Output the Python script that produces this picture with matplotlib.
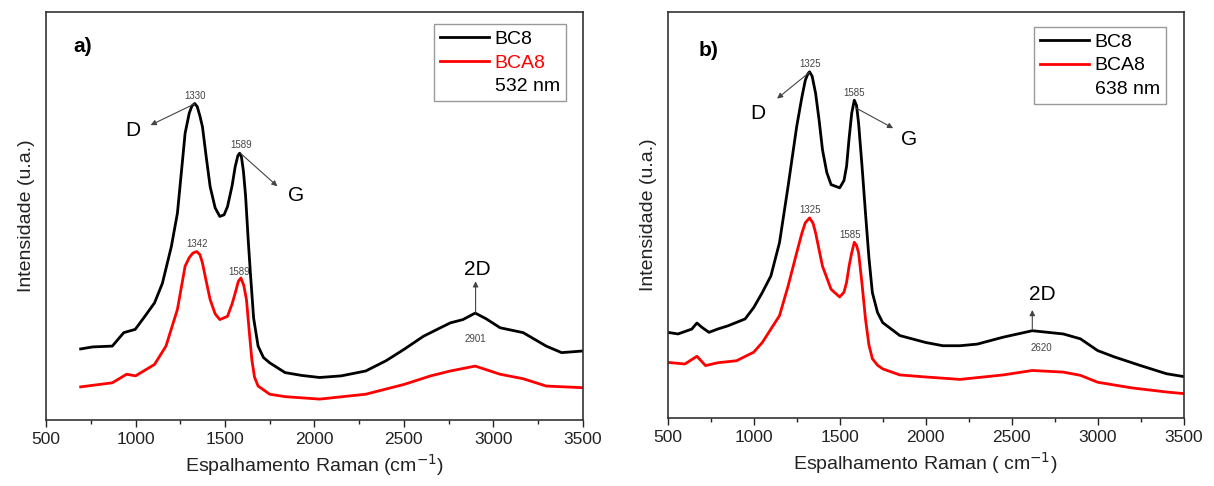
import numpy as np
import matplotlib
matplotlib.use("Agg")
import matplotlib.pyplot as plt
from matplotlib.lines import Line2D

plt.rcParams['font.family'] = ['Liberation Sans', 'DejaVu Sans']

# --- Data (intensity in arbitrary units, 0-100) ---
# a) 532 nm
a_bc8_x = [693, 760, 870, 934, 998, 1052, 1106, 1150, 1200, 1234, 1260, 1277,
           1300, 1315, 1331, 1345, 1360, 1374, 1395, 1417, 1445, 1471, 1495,
           1514, 1540, 1557, 1572, 1582, 1592, 1603, 1615, 1630, 1642, 1660,
           1685, 1715, 1750, 1836, 1930, 2029, 2150, 2287, 2400, 2501, 2609,
           2700, 2760, 2830, 2899, 2960, 3038, 3167, 3296, 3382, 3500]
a_bc8_y = [17.4, 17.9, 18.1, 21.4, 22.2, 25.4, 28.7, 33.5, 42.5, 50.7, 62.5,
           70.3, 75.2, 77.0, 77.6, 76.8, 74.5, 71.9, 64.5, 57.2, 52.0, 49.9,
           50.3, 52.3, 57.5, 62.1, 64.8, 65.4, 64.5, 61.0, 55.0, 44.0, 36.0,
           25.0, 18.1, 15.3, 14.0, 11.6, 10.9, 10.4, 10.8, 12.0, 14.5, 17.3,
           20.5, 22.5, 23.8, 24.6, 26.2, 24.8, 22.6, 21.4, 18.1, 16.5, 16.9]
a_bca8_x = [693, 870, 950, 1000, 1106, 1170, 1234, 1277, 1300, 1320, 1342,
            1360, 1374, 1395, 1417, 1445, 1471, 1514, 1540, 1557, 1575, 1589,
            1605, 1620, 1635, 1650, 1665, 1685, 1750, 1836, 2029, 2287, 2501,
            2650, 2760, 2899, 3038, 3167, 3296, 3500]
a_bca8_y = [8.1, 9.1, 11.2, 10.8, 13.6, 18.1, 27.1, 37.7, 39.8, 40.9, 41.3,
            40.5, 38.5, 34.0, 29.5, 26.0, 24.6, 25.4, 28.5, 31.1, 34.0, 34.8,
            33.0, 29.5, 22.0, 14.8, 10.5, 8.3, 6.3, 5.7, 5.1, 6.3, 8.7, 10.8,
            12.0, 13.2, 11.2, 10.1, 8.3, 7.9]

# b) 638 nm
b_bc8_x = [500, 560, 640, 670, 700, 740, 790, 850, 950, 1000, 1050, 1100,
           1150, 1200, 1250, 1280, 1300, 1315, 1325, 1340, 1360, 1380, 1400,
           1425, 1450, 1500, 1525, 1540, 1555, 1570, 1585, 1598, 1610, 1630,
           1650, 1670, 1690, 1720, 1750, 1850, 2000, 2100, 2200, 2300, 2450,
           2620, 2800, 2900, 3000, 3100, 3250, 3400, 3500]
b_bc8_y = [21.1, 20.7, 21.9, 23.4, 22.3, 21.1, 21.9, 22.7, 24.4, 27.2, 30.9,
           35.0, 43.2, 57.1, 71.8, 79.0, 83.2, 84.8, 85.3, 84.2, 80.0, 73.5,
           66.1, 60.5, 57.5, 56.7, 58.5, 62.0, 69.0, 75.1, 78.3, 77.0, 72.6,
           62.0, 50.5, 39.5, 30.9, 26.0, 23.5, 20.3, 18.6, 17.8, 17.8, 18.2,
           19.9, 21.5, 20.7, 19.5, 16.6, 15.0, 12.9, 10.9, 10.2]
b_bca8_x = [500, 600, 670, 720, 790, 900, 1000, 1050, 1100, 1150, 1200, 1250,
            1280, 1300, 1325, 1345, 1360, 1380, 1400, 1450, 1500, 1525, 1540,
            1555, 1570, 1585, 1598, 1610, 1630, 1650, 1670, 1690, 1720, 1750,
            1850, 2000, 2200, 2450, 2620, 2800, 2900, 3000, 3200, 3400, 3500]
b_bca8_y = [13.7, 13.3, 15.2, 12.9, 13.6, 14.1, 16.2, 18.6, 21.9, 25.2, 32.5,
            40.7, 45.5, 48.1, 49.3, 48.0, 45.6, 41.5, 37.4, 31.7, 29.8, 31.0,
            33.4, 37.5, 40.7, 43.3, 42.5, 40.7, 33.0, 24.4, 18.0, 14.6, 13.0,
            12.1, 10.6, 10.1, 9.5, 10.6, 11.7, 11.3, 10.5, 8.8, 7.4, 6.4, 6.0]

# Peak labels: (x, y, text)
a_peaks = [(1330, 79.5, "1330"), (1589, 67.3, "1589"), (1342, 43.2, "1342"),
           (1580, 36.3, "1589"), (2901, 19.8, "2901")]
b_peaks = [(1325, 87.3, "1325"), (1585, 80.2, "1585"), (1325, 51.2, "1325"),
           (1560, 45.2, "1585"), (2674, 17.2, "2620")]


def style_axes(ax, xlabel):
    ax.set_xlim(500, 3500)
    ax.set_ylim(0, 100)
    ax.set_xticks(np.arange(500, 3501, 500))
    ax.set_xticks(np.arange(750, 3500, 500), minor=True)
    ax.set_yticks([])
    ax.tick_params(axis='x', which='major', direction='out', length=5,
                   width=1, labelsize=12.5, colors='#222222')
    ax.tick_params(axis='x', which='minor', direction='out', length=3,
                   width=1, colors='#222222')
    for sp in ax.spines.values():
        sp.set_linewidth(1.2)
        sp.set_color('#333333')
    ax.set_xlabel(xlabel, fontsize=14, color='#222222', labelpad=4)
    ax.set_ylabel("Intensidade (u.a.)", fontsize=14, color='#222222',
                  labelpad=8)


def add_legend(ax, wl, red_text, anchor):
    handles = [Line2D([], [], color='black', lw=2),
               Line2D([], [], color='red', lw=2),
               Line2D([], [], color='none')]
    leg = ax.legend(handles, ["BC8", "BCA8", wl], loc='upper right',
                    bbox_to_anchor=anchor, fontsize=14,
                    handlelength=2.5, handletextpad=0.3, labelspacing=0.32,
                    borderpad=0.3, borderaxespad=0, fancybox=False,
                    framealpha=1)
    leg.get_frame().set_edgecolor('#999999')
    leg.get_frame().set_linewidth(1)
    if red_text:
        leg.get_texts()[1].set_color('red')


def arrow(ax, start, end):
    ax.annotate("", xy=end, xytext=start,
                arrowprops=dict(arrowstyle='-|>', color='#444444', lw=0.8,
                                mutation_scale=8, shrinkA=0, shrinkB=0))


fig = plt.figure(figsize=(12.14, 4.86), dpi=100)
ax1 = fig.add_axes([0.038, 0.136, 0.442, 0.839])
ax2 = fig.add_axes([0.550, 0.140, 0.425, 0.835])

# Panel a)
ax1.plot(a_bc8_x, a_bc8_y, color='black', lw=2)
ax1.plot(a_bca8_x, a_bca8_y, color='red', lw=2)
style_axes(ax1, "Espalhamento Raman (cm$^{-1}$)")
add_legend(ax1, "532 nm", True, (0.968, 0.97))
ax1.text(650, 91.5, "a)", fontsize=15, fontweight='bold', va='center')
for x, y, s in a_peaks:
    ax1.text(x, y, s, fontsize=7, color='#444444', ha='center', va='center')
arrow(ax1, (1330, 77.5), (1084, 72.3))
ax1.text(985, 71, "D", fontsize=15, ha='center', va='center')
arrow(ax1, (1589, 65.3), (1793, 57.3))
ax1.text(1900, 55, "G", fontsize=15, ha='center', va='center')
arrow(ax1, (2901, 26.3), (2901, 34))
ax1.text(2910, 37, "2D", fontsize=15, ha='center', va='center')

# Panel b)
ax2.plot(b_bc8_x, b_bc8_y, color='black', lw=2)
ax2.plot(b_bca8_x, b_bca8_y, color='red', lw=2)
style_axes(ax2, "Espalhamento Raman ( cm$^{-1}$)")
add_legend(ax2, "638 nm", False, (0.965, 0.963))
ax2.text(680, 90.5, "b)", fontsize=15, fontweight='bold', va='center')
for x, y, s in b_peaks:
    ax2.text(x, y, s, fontsize=7, color='#444444', ha='center', va='center')
arrow(ax2, (1325, 85.2), (1136, 78.7))
ax2.text(1022, 75, "D", fontsize=15, ha='center', va='center')
arrow(ax2, (1590, 76.5), (1811, 71.4))
ax2.text(1905, 68.5, "G", fontsize=15, ha='center', va='center')
arrow(ax2, (2620, 22), (2620, 26.6))
ax2.text(2680, 30.3, "2D", fontsize=15, ha='center', va='center')

fig.savefig("out.png", dpi=100)
